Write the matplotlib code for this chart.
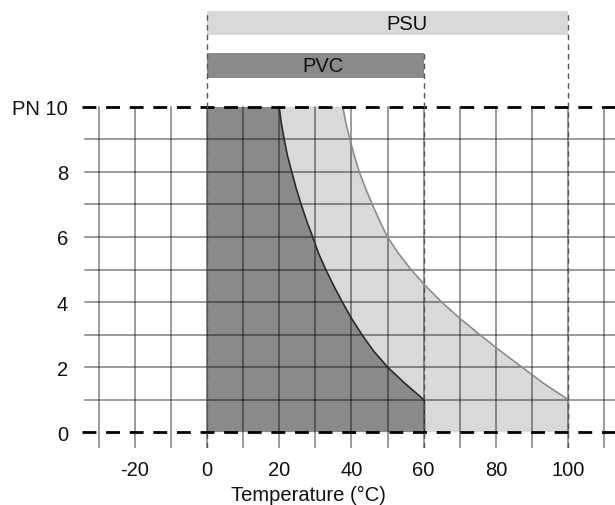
import matplotlib
matplotlib.use("Agg")
import matplotlib.pyplot as plt

plt.rcParams['font.family'] = ['Liberation Sans', 'DejaVu Sans']

# Data
pressures = [10, 9.5, 9, 8.5, 8, 7.5, 7, 6.5, 6, 5.5, 5, 4.5, 4, 3.5, 3, 2.5, 2, 1.5, 1]
pvc_temps = [20.0, 20.6, 21.4, 22.3, 23.5, 24.7, 26.1, 27.6, 29.3, 30.9, 32.9,
             35.1, 37.5, 40.0, 42.9, 46.1, 50.0, 54.8, 60.0]
psu_temps = [37.6, 38.5, 39.6, 40.8, 42.2, 43.9, 45.8, 47.8, 50.0, 53.0, 56.5,
             60.5, 65.0, 70.0, 75.5, 81.2, 87.2, 93.2, 100.0]
materials = ['PSU', 'PVC']
mat_min = [0, 0]
mat_max = [100, 60]
x_ticks = [-20, 0, 20, 40, 60, 80, 100]
y_ticks = [0, 2, 4, 6, 8, 10]
y_ticklabels = ['0', '2', '4', '6', '8', 'PN 10']
x_label = 'Temperature (°C)'

W, H = 615, 506
fig = plt.figure(figsize=(W / 100, H / 100), dpi=100)
ax = fig.add_axes([82 / W, (H - 449) / H, (W - 82) / W, 449 / H])
x0, x1 = -34.6, 113.0
y0, y1 = -0.49, 13.32
ax.set_xlim(x0, x1)
ax.set_ylim(y0, y1)
for s in ax.spines.values():
    s.set_visible(False)

light = '#d9d9d9'
dark = '#8a8a8a'

# PSU region
psu_x = [mat_min[0], mat_min[0]] + psu_temps + [mat_max[0]]
psu_y = [0, pressures[0]] + pressures + [0]
ax.fill(psu_x, psu_y, color=light, zorder=1, lw=0)
ax.plot(psu_temps, pressures, color='#8c8c8c', lw=1.2, zorder=4)
ax.plot([mat_max[0], mat_max[0]], [0, pressures[-1]], color='#8c8c8c', lw=1.0, zorder=4)

# PVC region
pvc_x = [mat_min[1], mat_min[1]] + pvc_temps + [mat_max[1]]
pvc_y = [0, pressures[0]] + pressures + [0]
ax.fill(pvc_x, pvc_y, color=dark, zorder=2, lw=0)
ax.plot(pvc_temps, pressures, color='#2a2a2a', lw=1.2, zorder=4)
ax.plot([mat_max[1], mat_max[1]], [0, pressures[-1]], color='#2a2a2a', lw=1.0, zorder=4)

# grid
for gx in range(-30, 111, 10):
    ax.plot([gx, gx], [y0, 10], color='black', alpha=0.5, lw=1.1, zorder=3)
for gy in range(1, 10):
    ax.plot([-33.8, x1], [gy, gy], color='black', alpha=0.5, lw=1.1, zorder=3)

# dashed bounds
for gy in (0, 10):
    ax.plot([x0, x1], [gy, gy], color='black', lw=2.0, dashes=(5, 3.5), zorder=5)

# material range bars
bar_bottom = [12.2, 10.89]
bar_top = [12.95, 11.65]
bar_colors = [light, dark]
label_x = [55.5, 32.0]
for name, lo, hi, b, t, c, lx in zip(materials, mat_min, mat_max, bar_bottom, bar_top,
                                     bar_colors, label_x):
    ax.fill_between([lo, hi], b, t, color=c, lw=0, zorder=2)
    ax.text(lx, (b + t) / 2, name, ha='center', va='center',
            fontsize=14.5, color='#111111', zorder=6)

# dashed verticals
for vx, vt in ((0, 12.95), (100, 12.95), (60, 11.65)):
    ax.plot([vx, vx], [y0, vt], color='#555555', lw=1.0, dashes=(4, 3), zorder=5)

ax.set_xticks(x_ticks)
ax.set_xticklabels([str(v) for v in x_ticks])
ax.set_yticks(y_ticks)
ax.set_yticklabels(y_ticklabels)
ax.tick_params(axis='both', length=0, labelsize=14.5, colors='#111111')
ax.tick_params(axis='x', pad=9)
ax.tick_params(axis='y', pad=10)
ax.set_xlabel(x_label, fontsize=14.5, color='#111111')
ax.xaxis.set_label_coords((308 - 82) / (W - 82), -0.082)

fig.savefig('out.png', dpi=100)
